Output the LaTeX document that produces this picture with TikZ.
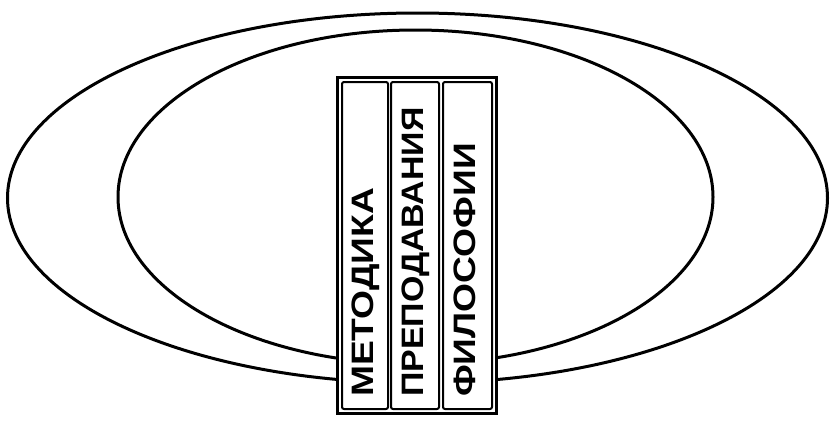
\documentclass[tikz,border=0pt]{standalone}
\usepackage{fontspec}
\usepackage{graphicx}
\newfontfamily\labfont{Liberation Sans}
\usepackage{tikz}
\tikzstyle{ring}=[draw, line width=3pt]
\tikzstyle{frame}=[draw, fill=white, line width=3pt, inner sep=0pt, minimum width=159pt, minimum height=336pt]
\tikzstyle{column}=[draw, line width=2pt, rounded corners=2pt, inner sep=0pt, minimum height=327pt]
\tikzstyle{word}=[rotate=90, anchor=base west, inner sep=0pt, font=\labfont\bfseries\fontsize{31}{31}\selectfont]
\newcommand{\column}{\node[column]}
\newcommand{\widen}[2]{\scalebox{#1}[1]{#2}}

\begin{document}
\begin{tikzpicture}[x=1pt, y=-1pt]
            \useasboundingbox (0,0) rectangle (830,432);

            % two rings behind the shelf
            \draw[ring] (417.5,198) ellipse [x radius=410, y radius=185];
            \draw[ring] (415.5,197) ellipse [x radius=297.5, y radius=167];

            % the shelf with three books
            \node[frame] (shelf) at (416.5,245) {};
            \column (c1) at (365,245.5) [minimum width=46pt]{};
            \column (c2) at (415,245.5) [minimum width=48pt]{};
            \column (c3) at (467.5,245.5) [minimum width=49pt]{};

            \node[word] (w1) at (373.5,397) {\widen{1.2}{МЕТОДИКА}};
            \node[word] (w2) at (423.5,397) {\widen{1.095}{ПРЕПОДАВАНИЯ}};
            \node[word] (w3) at (475.5,397) {\widen{1.2}{ФИЛОСОФИИ}};
        \end{tikzpicture}
\end{document}
